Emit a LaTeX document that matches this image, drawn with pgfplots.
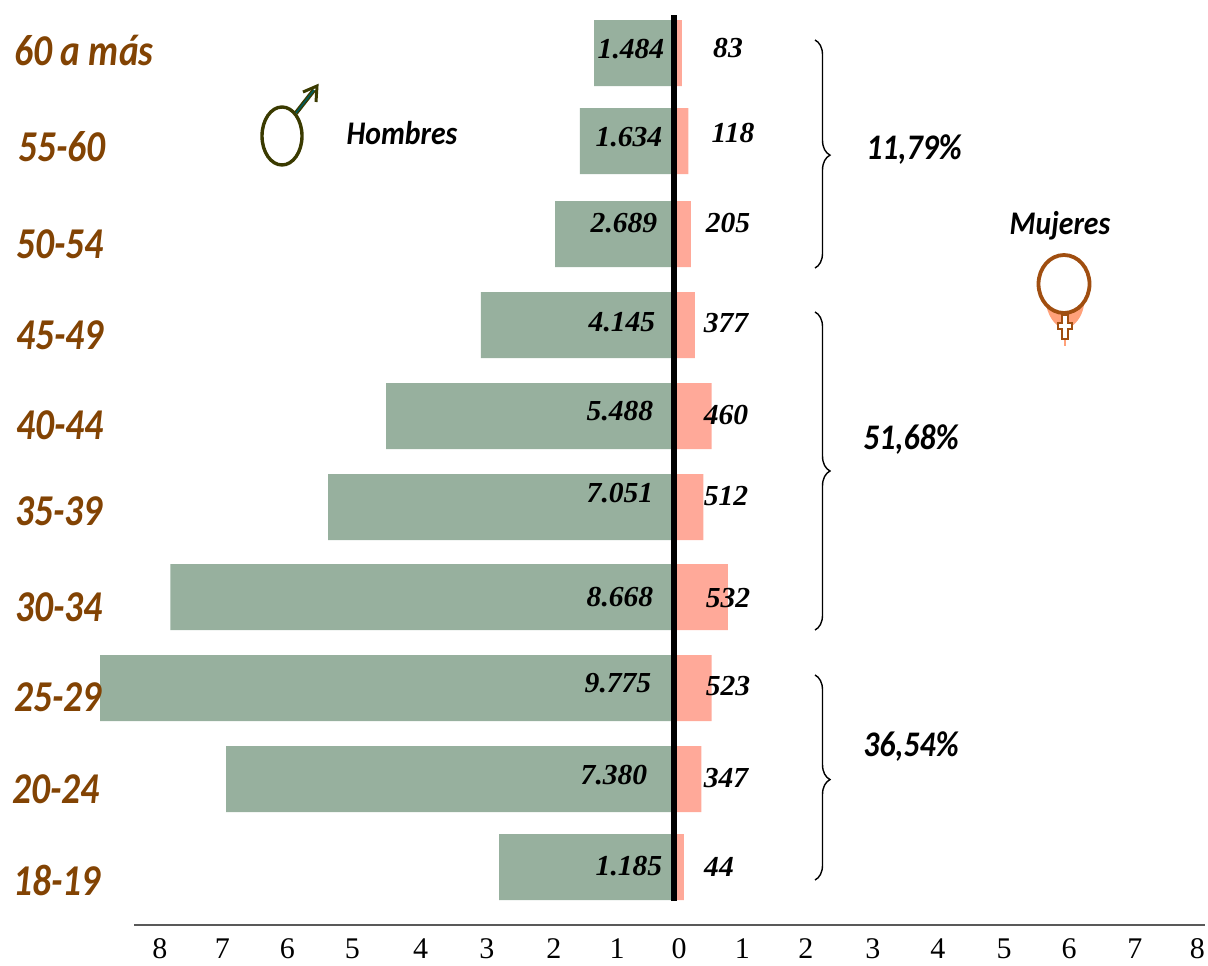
\documentclass[border=0pt]{standalone}
\usepackage{fontspec}
\usepackage{pgfplots}
\usepackage{pgfplotstable}
\usepackage{graphicx}
\pgfplotsset{compat=1.18}
\usetikzlibrary{decorations.pathreplacing}
\setmainfont{Liberation Serif}
\newfontfamily\calibri{Carlito}[BoldItalicFont=* Bold Italic]
\definecolor{hombre}{HTML}{97B09E}
\definecolor{mujer}{HTML}{FFA999}
\definecolor{edad}{HTML}{824303}
\definecolor{femsym}{HTML}{A04E10}
\definecolor{malesym}{HTML}{3A3A00}

% y = row position, x = bar length as drawn (scale of the axis)
\pgfplotstableread{
y     hombres mujeres
0.000 2.69 0.15
0.973 6.89 0.42
1.979 8.83 0.58
2.985 7.75 0.83
3.980 5.32 0.45
4.986 4.43 0.58
5.993 2.97 0.32
6.999 1.83 0.26
8.027 1.45 0.22
9.000 1.23 0.12
}\piramide

\newcommand{\val}[3]{\node[anchor=center] at (#1,#2) {\bfseries\itshape\scalebox{1.02}[1]{\fontsize{14.5}{14.5}\selectfont #3}};}
\newcommand{\edad}[3]{\node[anchor=west,text=edad,inner sep=0pt] at (#1,#2) {\scalebox{0.85}[1]{\calibri\bfseries\itshape\fontsize{22}{22}\selectfont #3}};}
\newcommand{\pct}[3]{\node[anchor=center] at (#1,#2) {\scalebox{0.88}[1]{\calibri\bfseries\itshape\fontsize{18}{18}\selectfont #3}};}

\begin{document}
\begin{tikzpicture}
\path[use as bounding box] (0,0) rectangle (604pt,482.5pt);
\begin{axis}[
    at={(67pt,20pt)}, anchor=south west,
    scale only axis,
    width=535.5pt, height=462.5pt,
    xmin=-8.3077, xmax=8.1692,
    ymin=-0.641, ymax=9.587,
    clip=false,
    axis x line=bottom,
    axis y line=none,
    axis line style={draw=black!65, line width=0.6pt, -},
    x tick style={draw=none},
    xtick={-7.91,-6.95,-5.95,-4.95,-3.9,-2.88,-1.85,-0.875,0.08,1.05,2.03,3.06,4.06,5.08,6.08,7.09,8.05},
    xticklabels={8,7,6,5,4,3,2,1,0,1,2,3,4,5,6,7,8},
    tick label style={font=\fontsize{15}{15}\selectfont},
    /pgf/number format/assume math mode=true,
    xticklabel style={inner sep=0pt, anchor=north, yshift=-4.5pt},
    xbar, bar shift=0pt, bar width=33pt,
]
\addplot[draw=none, fill=hombre] table[x expr=-\thisrow{hombres}, y=y] {\piramide};
\addplot[draw=none, fill=mujer] table[x=mujeres, y=y] {\piramide};
% central line
\addplot[black, line width=2.6pt, sharp plot] coordinates {(0,-0.37) (0,9.42)};
\end{axis}

\begin{scope}[yshift=482.5pt, x=0.5pt, y=-0.5pt]
% age groups
\edad{14}{50}{60 a más}
\edad{18}{147}{55-60}
\edad{16}{244}{50-54}
\edad{16}{335}{45-49}
\edad{16}{425}{40-44}
\edad{15}{511}{35-39}
\edad{15}{607}{30-34}
\edad{14}{697}{25-29}
\edad{12}{789}{20-24}
\edad{13}{880}{18-19}
% values, men
\val{631}{49}{1.484}
\val{629}{137}{1.634}
\val{624}{223}{2.689}
\val{622}{322}{4.145}
\val{620}{411}{5.488}
\val{620}{493}{7.051}
\val{620}{597}{8.668}
\val{618}{683}{9.775}
\val{614}{775}{7.380}
\val{629}{866}{1.185}
% values, women
\val{728}{48}{83}
\val{733}{133}{118}
\val{728}{223}{205}
\val{726}{323}{377}
\val{726}{415}{460}
\val{726}{496}{512}
\val{728}{598}{532}
\val{728}{686}{523}
\val{726}{778}{347}
\val{719}{867}{44}
% brackets
\draw[black, line width=0.7pt, decorate, decoration={brace, amplitude=7.5pt, aspect=0.505}] (815,40) -- (815,268);
\draw[black, line width=0.7pt, decorate, decoration={brace, amplitude=7.5pt, aspect=0.5}] (815,312) -- (815,630);
\draw[black, line width=0.7pt, decorate, decoration={brace, amplitude=7.5pt, aspect=0.51}] (815,675) -- (815,880);
\pct{914}{150}{11,79\%}
\pct{911}{440}{51,68\%}
\pct{911}{747}{36,54\%}
% legends with symbols
\node[anchor=center] at (402,133) {\scalebox{0.9}[1]{\calibri\bfseries\itshape\fontsize{16.5}{16.5}\selectfont Hombres}};
\node[anchor=center] at (1060,226) {\scalebox{0.9}[1]{\calibri\bfseries\itshape\fontsize{16.5}{16.5}\selectfont Mujeres}};
% male symbol
\draw[malesym, line width=1.7pt] (282,136) ellipse (20 and 29);
\draw[malesym, line width=2.2pt] (296,113) -- (314,90);
\draw[teal!70!black, line width=0.8pt] (296,113) -- (314,90);
\draw[malesym, line width=1.5pt, line join=miter] (303,92) -- (317,86) -- (316,102);
% female symbol
\fill[mujer!80!orange] (1046,305) .. controls (1050,322) and (1058,326) .. (1062,328) -- (1068,328) .. controls (1074,326) and (1082,318) .. (1084,305) -- cycle;
\draw[mujer!80!orange, line width=1pt] (1065,335) -- (1065,346);
\draw[femsym, line width=1.9pt, fill=white] (1064,284) ellipse (25.5 and 29);
\draw[femsym, line width=0.8pt, fill=white] (1062,315) -- (1068,315) -- (1068,323) -- (1072,323) -- (1072,329) -- (1068,329) -- (1068,339) -- (1062,339) -- (1062,329) -- (1058,329) -- (1058,323) -- (1062,323) -- cycle;
\end{scope}
\end{tikzpicture}
\end{document}
